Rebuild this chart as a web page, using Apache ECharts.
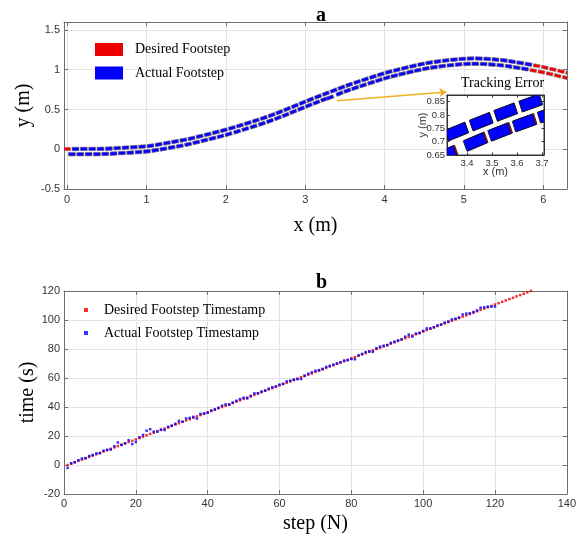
<!DOCTYPE html>
<html><head><meta charset="utf-8">
<script src="https://cdn.jsdelivr.net/npm/echarts@6/dist/echarts.min.js"></script>
<style>html,body{margin:0;padding:0;background:#fff}#c{width:579px;height:535px}</style>
</head><body><div id="c"></div>
<script>
// ---------- Plot a: footstep centres (m) ----------
const desiredUpperX = [0.000,0.105,0.210,0.315,0.420,0.525,0.630,0.735,0.840,0.945,1.050,1.153,1.257,1.360,1.464,1.567,1.669,1.771,1.873,1.975,2.077,2.177,2.277,2.378,2.478,2.578,2.675,2.772,2.870,2.967,3.064,3.162,3.260,3.359,3.457,3.555,3.655,3.754,3.854,3.953,4.053,4.155,4.257,4.359,4.461,4.563,4.667,4.771,4.875,4.980,5.084,5.189,5.294,5.399,5.504,5.607,5.710,5.814,5.917,6.020,6.122,6.224,6.326,6.428,6.530];
const desiredUpperY = [0.003,0.003,0.004,0.004,0.005,0.008,0.014,0.020,0.026,0.033,0.043,0.060,0.078,0.096,0.115,0.137,0.162,0.187,0.213,0.239,0.268,0.298,0.329,0.361,0.394,0.429,0.466,0.505,0.545,0.585,0.624,0.662,0.700,0.738,0.775,0.811,0.845,0.878,0.910,0.942,0.971,0.997,1.022,1.046,1.068,1.088,1.103,1.116,1.127,1.136,1.141,1.141,1.136,1.128,1.118,1.103,1.086,1.068,1.049,1.029,1.005,0.980,0.955,0.929,0.903];
const desiredLowerX = [0.060,0.165,0.270,0.375,0.480,0.585,0.690,0.795,0.900,1.005,1.110,1.213,1.317,1.420,1.524,1.627,1.729,1.831,1.933,2.035,2.142,2.246,2.350,2.454,2.556,2.656,2.753,2.850,2.948,3.045,3.142,3.240,3.318,3.437,3.535,3.633,3.733,3.832,3.930,4.027,4.124,4.222,4.321,4.419,4.521,4.623,4.727,4.831,4.935,5.040,5.144,5.249,5.354,5.459,5.564,5.667,5.770,5.874,5.977,6.080,6.182,6.284,6.386,6.488,6.590];
const desiredLowerY = [-0.063,-0.063,-0.062,-0.062,-0.059,-0.055,-0.048,-0.043,-0.036,-0.027,-0.013,0.004,0.023,0.041,0.062,0.086,0.111,0.136,0.162,0.190,0.221,0.254,0.286,0.321,0.356,0.393,0.431,0.471,0.511,0.550,0.588,0.626,0.652,0.701,0.738,0.772,0.805,0.837,0.868,0.898,0.923,0.948,0.971,0.993,1.014,1.031,1.045,1.056,1.066,1.073,1.075,1.072,1.065,1.056,1.043,1.027,1.010,0.991,0.971,0.949,0.924,0.899,0.874,0.848,0.822];
const actualUpperX = [0.105,0.210,0.315,0.420,0.525,0.630,0.735,0.840,0.945,1.050,1.153,1.257,1.360,1.464,1.567,1.669,1.771,1.873,1.975,2.077,2.177,2.277,2.378,2.478,2.578,2.675,2.772,2.870,2.967,3.064,3.162,3.260,3.359,3.457,3.555,3.655,3.754,3.854,3.953,4.053,4.155,4.257,4.359,4.461,4.563,4.667,4.771,4.875,4.980,5.084,5.189,5.294,5.399,5.504,5.607,5.710,5.814];
const actualUpperY = [0.003,0.004,0.004,0.005,0.008,0.014,0.020,0.026,0.033,0.043,0.060,0.078,0.096,0.115,0.137,0.162,0.187,0.213,0.239,0.268,0.298,0.329,0.361,0.394,0.429,0.466,0.505,0.545,0.585,0.624,0.662,0.700,0.738,0.775,0.811,0.845,0.878,0.910,0.942,0.971,0.997,1.022,1.046,1.068,1.088,1.103,1.116,1.127,1.136,1.141,1.141,1.136,1.128,1.118,1.103,1.086,1.068];
const actualLowerX = [0.060,0.165,0.270,0.375,0.480,0.585,0.690,0.795,0.900,1.005,1.110,1.213,1.317,1.420,1.524,1.627,1.729,1.831,1.933,2.035,2.142,2.246,2.350,2.454,2.556,2.656,2.753,2.850,2.948,3.045,3.142,3.240,3.313,3.432,3.530,3.628,3.728,3.832,3.930,4.027,4.124,4.222,4.321,4.419,4.521,4.623,4.727,4.831,4.935,5.040,5.144,5.249,5.354,5.459,5.564,5.667,5.770];
const actualLowerY = [-0.063,-0.063,-0.062,-0.062,-0.059,-0.055,-0.048,-0.043,-0.036,-0.027,-0.013,0.004,0.023,0.041,0.062,0.086,0.111,0.136,0.162,0.190,0.221,0.254,0.286,0.321,0.356,0.393,0.431,0.471,0.511,0.550,0.588,0.626,0.650,0.699,0.736,0.770,0.803,0.837,0.868,0.898,0.923,0.948,0.971,0.993,1.014,1.031,1.045,1.056,1.066,1.073,1.075,1.072,1.065,1.056,1.043,1.027,1.010];
const footLength = 0.085, footWidth = 0.042;
const arrowFrom = [3.40, 0.61], arrowTo = [4.78, 0.72];
const mainTicksX = [0,1,2,3,4,5,6];
const mainTicksY = [-0.5,0,0.5,1,1.5];
const insetTicksX = [3.4,3.5,3.6,3.7];
const insetTicksY = [0.65,0.7,0.75,0.8,0.85];

// ---------- Plot b: timestamps (s) ----------
const desiredTime = [0.0,0.9,1.9,2.8,3.7,4.7,5.6,6.5,7.4,8.4,9.3,10.2,11.2,12.1,13.0,14.0,14.9,15.8,16.7,17.7,18.6,19.5,20.5,21.4,22.3,23.3,24.2,25.1,26.0,27.0,27.9,28.8,29.8,30.7,31.6,32.6,33.5,34.4,35.3,36.3,37.2,38.1,39.1,40.0,40.9,41.9,42.8,43.7,44.6,45.6,46.5,47.4,48.4,49.3,50.2,51.2,52.1,53.0,53.9,54.9,55.8,56.7,57.7,58.6,59.5,60.5,61.4,62.3,63.2,64.2,65.1,66.0,67.0,67.9,68.8,69.8,70.7,71.6,72.5,73.5,74.4,75.3,76.3,77.2,78.1,79.1,80.0,80.9,81.8,82.8,83.7,84.6,85.6,86.5,87.4,88.4,89.3,90.2,91.1,92.1,93.0,93.9,94.9,95.8,96.7,97.7,98.6,99.5,100.4,101.4,102.3,103.2,104.2,105.1,106.0,107.0,107.9,108.8,109.7,110.7,111.6,112.5,113.5,114.4,115.3,116.3,117.2,118.1,119.0,120.0];
const actualTime = [-2.0,1.2,1.9,3.3,4.5,4.7,6.2,6.9,8.0,8.1,9.8,10.5,10.6,12.9,15.5,13.8,14.9,17.1,14.4,15.9,19.1,20.7,23.7,24.7,23.0,23.0,24.4,24.1,26.3,27.1,28.4,30.4,29.8,32.1,32.5,33.2,32.0,35.2,35.6,36.0,37.6,38.4,39.5,40.9,41.8,41.6,43.0,44.3,45.5,46.4,45.9,47.6,49.4,49.5,50.7,51.4,52.6,53.6,54.2,55.4,56.0,57.7,58.1,58.9,59.2,59.3,61.6,62.9,63.9,65.0,65.4,66.3,67.6,68.4,69.2,70.1,70.9,72.0,72.3,73.1,72.9,75.6,76.6,77.9,78.4,78.0,80.5,81.6,82.3,82.6,84.2,85.0,85.9,86.7,88.5,89.9,88.6,90.6,91.0,92.4,94.2,94.2,95.0,96.3,96.9,98.2,98.9,100.4,100.9,101.7,103.8,104.4,104.6,105.5,106.6,108.5,108.7,109.2,109.3,109.3];

// ---------- helpers ----------
const SANS = "'Liberation Sans', Arial, sans-serif";
const SERIF = "'Liberation Serif', 'Times New Roman', serif";
const AX = '#6e6e6e', GRIDC = '#e4e4e4', RED = '#ee0000', BLUE = '#0000ff';

function footData(xs, ys) {
  return xs.map((x, i) => {
    const a = Math.max(0, i - 1), b = Math.min(xs.length - 1, i + 1);
    const dx = xs[b] - xs[a], dy = ys[b] - ys[a], n = Math.hypot(dx, dy);
    return [x, ys[i], dx / n, dy / n];
  });
}
function footRender(fill, stroke, lw) {
  return function (params, api) {
    const x = api.value(0), y = api.value(1), ux = api.value(2), uy = api.value(3);
    const nx = -uy, ny = ux, hl = footLength / 2, hw = footWidth / 2;
    const pts = [[1,1],[1,-1],[-1,-1],[-1,1]].map(([a, b]) =>
      api.coord([x + a * ux * hl + b * nx * hw, y + a * uy * hl + b * ny * hw]));
    return { type: 'polygon', shape: { points: pts }, style: { fill: fill, stroke: stroke, lineWidth: lw } };
  };
}
const fmt = v => String(+(+v).toFixed(3));
const desiredFoot = footData(desiredUpperX, desiredUpperY).concat(footData(desiredLowerX, desiredLowerY));
const actualFoot = footData(actualUpperX, actualUpperY).concat(footData(actualLowerX, actualLowerY));
const desiredPts = desiredTime.map((t, i) => [i + 1, t]);
const actualPts = actualTime.map((t, i) => [i + 1, t]);

function axisBase(extra) {
  return Object.assign({
    type: 'value',
    nameMoveOverlap: false,
    axisLine: { show: true, onZero: false, lineStyle: { color: AX, width: 1 } },
    axisTick: { show: true, inside: true, length: 4, lineStyle: { color: AX } },
    axisLabel: { show: true, fontFamily: SANS, fontSize: 11, color: '#333' },
    splitLine: { show: false }
  }, extra);
}
const nameStyle = { fontFamily: SERIF, fontSize: 20, color: '#000' };

const option = {
  animation: false,
  backgroundColor: '#fff',
  title: [
    { text: 'a', left: 311, top: 1, textStyle: { fontFamily: SERIF, fontSize: 20, fontWeight: 'bold', color: '#000' } },
    { text: 'b', left: 311, top: 268, textStyle: { fontFamily: SERIF, fontSize: 20, fontWeight: 'bold', color: '#000' } },
    { text: 'Tracking Error', left: 456, top: 71, textStyle: { fontFamily: SERIF, fontSize: 14, fontWeight: 'normal', color: '#000' } }
  ],
  legend: [
    { data: ['Desired Footstep', 'Actual Footstep'], orient: 'vertical', left: 90, top: 36,
      itemWidth: 28, itemHeight: 13, itemGap: 6.5, icon: 'rect', selectedMode: false,
      itemStyle: { borderWidth: 0 },
      textStyle: { fontFamily: SERIF, fontSize: 14, color: '#000', padding: [0,0,0,7], lineHeight: 17 } },
    { data: ['Desired Footstep Timestamp', 'Actual Footstep Timestamp'], orient: 'vertical', left: 79, top: 296.5,
      itemWidth: 4, itemHeight: 4, itemGap: 6, icon: 'rect', selectedMode: false,
      textStyle: { fontFamily: SERIF, fontSize: 14, color: '#000', padding: [0,0,0,11], lineHeight: 17 } }
  ],
  grid: [
    { left: 64, right: 12, top: 22, height: 167 },
    { left: 64, right: 12, top: 291, height: 205 },
    { left: 447, top: 95, width: 97, height: 60, show: true, backgroundColor: '#fff', borderColor: '#333', borderWidth: 1, z: 10 }
  ],
  xAxis: [
    axisBase({ gridIndex: 0, min: -0.04, max: 6.3, position: 'bottom',
      name: 'x (m)', nameLocation: 'middle', nameGap: 27, nameTextStyle: nameStyle,
      axisTick: { inside: true, length: 4, customValues: mainTicksX, lineStyle: { color: AX } },
      axisLabel: { customValues: mainTicksX, formatter: fmt, margin: 5, fontFamily: SANS, fontSize: 11, color: '#333' },
      splitLine: { show: true, lineStyle: { color: GRIDC, width: 1 } } }),
    axisBase({ gridIndex: 0, min: -0.04, max: 6.3, position: 'top',
      axisTick: { inside: true, length: 4, customValues: mainTicksX, lineStyle: { color: AX } },
      axisLabel: { show: false } }),
    axisBase({ gridIndex: 1, min: 0, max: 140, interval: 20, position: 'bottom',
      name: 'step (N)', nameLocation: 'middle', nameGap: 20, nameTextStyle: nameStyle,
      axisLabel: { margin: 4, fontFamily: SANS, fontSize: 11, color: '#333' },
      splitLine: { show: true, lineStyle: { color: GRIDC, width: 1 } } }),
    axisBase({ gridIndex: 1, min: 0, max: 140, interval: 20, position: 'top', axisLabel: { show: false } }),
    axisBase({ gridIndex: 2, min: 3.32, max: 3.708, position: 'bottom', z: 11,
      name: 'x (m)', nameLocation: 'middle', nameGap: 11, nameTextStyle: { fontFamily: SANS, fontSize: 11, color: '#333' },
      axisLine: { onZero: false, lineStyle: { color: '#333', width: 1 } },
      axisTick: { inside: true, length: 2.5, customValues: insetTicksX, lineStyle: { color: '#333' } },
      axisLabel: { customValues: insetTicksX, formatter: fmt, margin: 3, fontFamily: SANS, fontSize: 9.5, color: '#333' } }),
    axisBase({ gridIndex: 2, min: 3.32, max: 3.708, position: 'top', z: 11,
      axisLine: { onZero: false, lineStyle: { color: '#333', width: 1 } },
      axisTick: { inside: true, length: 2.5, customValues: insetTicksX, lineStyle: { color: '#333' } },
      axisLabel: { show: false } })
  ],
  yAxis: [
    axisBase({ gridIndex: 0, min: -0.5, max: 1.6, position: 'left',
      name: 'y (m)', nameLocation: 'middle', nameGap: 30, nameTextStyle: nameStyle,
      axisTick: { inside: true, length: 4, customValues: mainTicksY, lineStyle: { color: AX } },
      axisLabel: { customValues: mainTicksY, formatter: fmt, margin: 4, fontFamily: SANS, fontSize: 11, color: '#333' },
      splitLine: { show: true, lineStyle: { color: GRIDC, width: 1 } } }),
    axisBase({ gridIndex: 0, min: -0.5, max: 1.6, position: 'right',
      axisTick: { inside: true, length: 4, customValues: mainTicksY, lineStyle: { color: AX } },
      axisLabel: { show: false } }),
    axisBase({ gridIndex: 1, min: -20, max: 120, interval: 20, position: 'left',
      name: 'time (s)', nameLocation: 'middle', nameGap: 26, nameTextStyle: nameStyle,
      axisLabel: { margin: 4, fontFamily: SANS, fontSize: 11, color: '#333' },
      splitLine: { show: true, lineStyle: { color: GRIDC, width: 1 } } }),
    axisBase({ gridIndex: 1, min: -20, max: 120, interval: 20, position: 'right', axisLabel: { show: false } }),
    axisBase({ gridIndex: 2, min: 0.65, max: 0.875, position: 'left', z: 11,
      name: 'y (m)', nameLocation: 'middle', nameGap: 19, nameTextStyle: { fontFamily: SANS, fontSize: 11, color: '#333' },
      axisLine: { onZero: false, lineStyle: { color: '#333', width: 1 } },
      axisTick: { inside: true, length: 2.5, customValues: insetTicksY, lineStyle: { color: '#333' } },
      axisLabel: { customValues: insetTicksY, formatter: fmt, margin: 2, fontFamily: SANS, fontSize: 9.5, color: '#333' } }),
    axisBase({ gridIndex: 2, min: 0.65, max: 0.875, position: 'right', z: 11,
      axisLine: { onZero: false, lineStyle: { color: '#333', width: 1 } },
      axisTick: { inside: true, length: 2.5, customValues: insetTicksY, lineStyle: { color: '#333' } },
      axisLabel: { show: false } })
  ],
  series: [
    { type: 'custom', name: 'Desired Footstep', xAxisIndex: 0, yAxisIndex: 0, clip: true, silent: true, z: 2,
      itemStyle: { color: RED }, dimensions: ['x','y','ux','uy'], encode: { x: 0, y: 1 },
      renderItem: footRender(RED, '#8c8c8c', 0.5), data: desiredFoot },
    { type: 'custom', name: 'Actual Footstep', xAxisIndex: 0, yAxisIndex: 0, clip: true, silent: true, z: 3,
      itemStyle: { color: BLUE }, dimensions: ['x','y','ux','uy'], encode: { x: 0, y: 1 },
      renderItem: footRender(BLUE, '#8c8c8c', 0.5), data: actualFoot },
    { type: 'lines', name: 'arrow', coordinateSystem: 'cartesian2d', xAxisIndex: 0, yAxisIndex: 0, silent: true, z: 4,
      symbol: ['none', 'arrow'], symbolSize: 7,
      lineStyle: { color: '#EDB120', width: 1.5, opacity: 1, curveness: 0 },
      data: [{ coords: [arrowFrom, arrowTo] }] },
    { type: 'custom', name: 'inset desired', xAxisIndex: 4, yAxisIndex: 4, clip: true, silent: true, z: 12,
      itemStyle: { color: RED }, dimensions: ['x','y','ux','uy'], encode: { x: 0, y: 1 },
      renderItem: footRender(RED, '#111', 0.8), data: desiredFoot },
    { type: 'custom', name: 'inset actual', xAxisIndex: 4, yAxisIndex: 4, clip: true, silent: true, z: 13,
      itemStyle: { color: BLUE }, dimensions: ['x','y','ux','uy'], encode: { x: 0, y: 1 },
      renderItem: footRender(BLUE, '#111', 0.8), data: actualFoot },
    { type: 'scatter', name: 'Desired Footstep Timestamp', xAxisIndex: 2, yAxisIndex: 2, silent: true, z: 3,
      symbol: 'rect', symbolSize: 2.5, itemStyle: { color: RED }, data: desiredPts },
    { type: 'scatter', name: 'Actual Footstep Timestamp', xAxisIndex: 2, yAxisIndex: 2, silent: true, z: 4,
      symbol: 'rect', symbolSize: 2.5, itemStyle: { color: BLUE }, data: actualPts }
  ]
};
const chart = echarts.init(document.getElementById('c'), null, { renderer: 'canvas' });
chart.setOption(option);
</script>
</body></html>
